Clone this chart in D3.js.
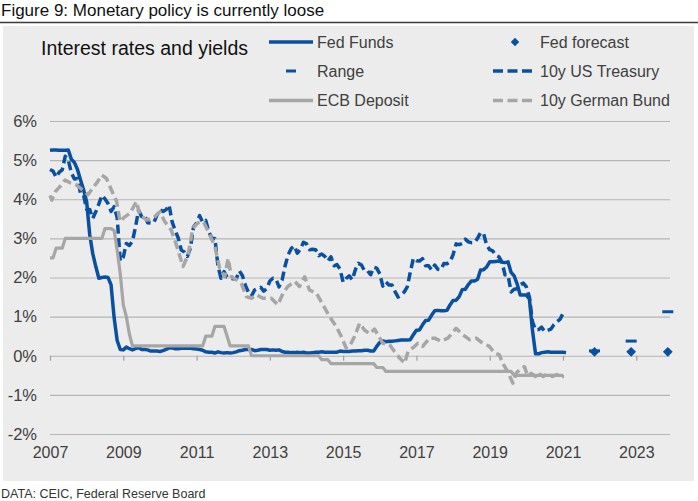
<!DOCTYPE html>
<html>
<head>
<meta charset="utf-8">
<script src="https://cdn.jsdelivr.net/npm/d3@7"></script>
<style>
  body { margin: 0; background: #fff; }
  text { font-family: "Liberation Sans", Arial, sans-serif; }
</style>
</head>
<body>
<script>
// monthly series start in January 2007
var startYear = 2007;

// effective Fed funds rate, monthly, Jan 2007 - Feb 2021
var fedFunds = [
  5.25,5.26,5.26,5.25,5.25,5.25,5.26,5.02,4.94,4.76,4.49,4.24,
  3.94,3.10,2.61,2.28,1.98,2.00,2.01,2.00,1.81,0.97,0.39,0.16,
  0.15,0.22,0.18,0.15,0.18,0.21,0.16,0.16,0.15,0.12,0.12,0.12,
  0.11,0.13,0.16,0.20,0.20,0.18,0.18,0.19,0.19,0.19,0.19,0.18,
  0.17,0.16,0.14,0.10,0.09,0.09,0.07,0.10,0.08,0.07,0.08,0.07,
  0.08,0.10,0.13,0.14,0.16,0.16,0.16,0.13,0.14,0.16,0.16,0.16,
  0.14,0.15,0.14,0.15,0.11,0.09,0.09,0.08,0.08,0.09,0.08,0.09,
  0.07,0.07,0.08,0.09,0.09,0.10,0.09,0.09,0.09,0.09,0.09,0.12,
  0.11,0.11,0.11,0.12,0.12,0.13,0.13,0.14,0.14,0.12,0.12,0.24,
  0.34,0.38,0.36,0.37,0.37,0.38,0.39,0.40,0.40,0.40,0.41,0.54,
  0.65,0.66,0.79,0.90,0.91,1.04,1.15,1.16,1.15,1.15,1.16,1.30,
  1.41,1.42,1.51,1.69,1.70,1.82,1.91,1.91,1.95,2.19,2.20,2.27,
  2.40,2.40,2.41,2.42,2.39,2.38,2.40,2.13,2.04,1.83,1.55,1.55,
  1.55,1.45,0.65,0.05,0.05,0.08,0.09,0.10,0.09,0.09,0.09,0.09,
  0.09,0.08
];

// 10y US Treasury yield, monthly, Jan 2007 - Jan 2021
var ust10y = [
  4.76,4.72,4.56,4.69,4.75,5.10,5.00,4.67,4.52,4.53,4.15,4.10,
  3.74,3.74,3.51,3.68,3.88,4.10,4.01,3.89,3.69,3.81,3.53,2.42,
  2.52,2.87,2.82,2.93,3.29,3.72,3.56,3.59,3.40,3.39,3.40,3.59,
  3.73,3.69,3.73,3.85,3.42,3.20,3.01,2.70,2.65,2.54,2.76,3.29,
  3.39,3.58,3.41,3.46,3.17,3.00,3.00,2.30,1.98,2.15,2.01,1.98,
  1.97,1.97,2.17,2.05,1.80,1.62,1.53,1.68,1.72,1.75,1.65,1.72,
  1.91,1.98,1.96,1.76,1.93,2.30,2.58,2.74,2.81,2.62,2.72,2.90,
  2.86,2.71,2.72,2.71,2.56,2.60,2.54,2.42,2.53,2.30,2.33,2.21,
  1.88,1.98,2.04,1.94,2.20,2.36,2.32,2.17,2.17,2.07,2.26,2.24,
  2.09,1.78,1.89,1.81,1.81,1.64,1.50,1.56,1.63,1.76,2.14,2.49,
  2.43,2.42,2.48,2.30,2.30,2.19,2.32,2.21,2.20,2.36,2.35,2.40,
  2.58,2.86,2.84,2.87,2.98,2.91,2.89,2.89,3.00,3.15,3.12,2.83,
  2.71,2.68,2.57,2.53,2.40,2.07,2.06,1.63,1.70,1.71,1.81,1.86,
  1.76,1.50,0.87,0.66,0.67,0.73,0.62,0.65,0.68,0.79,0.87,0.93,
  1.08
];

// ECB deposit rate, monthly, Jan 2007 - Jan 2021
var ecbDeposit = [
  2.50,2.50,2.75,2.75,2.75,3.00,3.00,3.00,3.00,3.00,3.00,3.00,
  3.00,3.00,3.00,3.00,3.00,3.00,3.25,3.25,3.25,3.20,2.70,2.10,
  1.30,1.00,0.55,0.25,0.25,0.25,0.25,0.25,0.25,0.25,0.25,0.25,
  0.25,0.25,0.25,0.25,0.25,0.25,0.25,0.25,0.25,0.25,0.25,0.25,
  0.25,0.25,0.25,0.50,0.50,0.50,0.75,0.75,0.75,0.75,0.50,0.25,
  0.25,0.25,0.25,0.25,0.25,0.25,0.00,0.00,0.00,0.00,0.00,0.00,
  0.00,0.00,0.00,0.00,0.00,0.00,0.00,0.00,0.00,0.00,0.00,0.00,
  0.00,0.00,0.00,0.00,0.00,-0.10,-0.10,-0.10,-0.20,-0.20,-0.20,-0.20,
  -0.20,-0.20,-0.20,-0.20,-0.20,-0.20,-0.20,-0.20,-0.20,-0.20,-0.20,-0.30,
  -0.30,-0.30,-0.40,-0.40,-0.40,-0.40,-0.40,-0.40,-0.40,-0.40,-0.40,-0.40,
  -0.40,-0.40,-0.40,-0.40,-0.40,-0.40,-0.40,-0.40,-0.40,-0.40,-0.40,-0.40,
  -0.40,-0.40,-0.40,-0.40,-0.40,-0.40,-0.40,-0.40,-0.40,-0.40,-0.40,-0.40,
  -0.40,-0.40,-0.40,-0.40,-0.40,-0.40,-0.40,-0.40,-0.50,-0.50,-0.50,-0.50,
  -0.50,-0.50,-0.50,-0.50,-0.50,-0.50,-0.50,-0.50,-0.50,-0.50,-0.50,-0.50,
  -0.50
];

// 10y German Bund yield, [year, value]
var bund10y = [
  [2007.00,4.10],[2007.05,3.98],[2007.15,4.20],[2007.30,4.35],[2007.41,4.49],[2007.55,4.42],
  [2007.70,4.38],[2007.90,4.23],[2008.04,4.12],[2008.18,4.30],[2008.30,4.45],[2008.41,4.62],
  [2008.54,4.53],[2008.68,4.23],[2008.82,3.94],[2008.91,3.43],[2009.04,3.55],[2009.18,3.64],
  [2009.36,3.94],[2009.45,3.60],[2009.63,3.47],[2009.80,3.50],[2010.00,3.68],[2010.13,3.43],
  [2010.31,3.21],[2010.45,2.83],[2010.63,2.28],[2010.77,2.58],[2010.90,3.26],[2011.04,3.40],
  [2011.18,3.43],[2011.31,3.20],[2011.50,2.79],[2011.63,2.24],[2011.77,2.02],[2011.86,2.49],
  [2011.95,2.02],[2012.09,1.94],[2012.22,1.85],[2012.36,1.51],[2012.50,1.47],[2012.63,1.56],
  [2012.81,1.47],[2013.04,1.47],[2013.22,1.30],[2013.36,1.60],[2013.49,1.77],[2013.68,1.90],
  [2013.81,1.77],[2013.95,2.02],[2014.08,1.68],[2014.27,1.60],[2014.45,1.30],[2014.63,1.00],
  [2014.81,0.75],[2014.95,0.49],[2015.08,0.20],[2015.17,0.23],[2015.31,0.49],[2015.45,0.83],
  [2015.58,0.66],[2015.72,0.56],[2015.86,0.68],[2016.08,0.32],[2016.27,0.28],[2016.40,0.11],
  [2016.54,-0.06],[2016.68,-0.19],[2016.77,0.11],[2016.90,0.20],[2017.04,0.32],[2017.17,0.24],
  [2017.36,0.45],[2017.50,0.45],[2017.67,0.37],[2017.86,0.45],[2018.08,0.70],[2018.26,0.54],
  [2018.45,0.41],[2018.63,0.45],[2018.81,0.32],[2018.99,0.24],[2019.13,0.07],[2019.26,0.03],
  [2019.35,-0.19],[2019.49,-0.40],[2019.63,-0.70],[2019.72,-0.45],[2019.86,-0.32],[2019.95,-0.28],
  [2020.04,-0.53],[2020.13,-0.45],[2020.25,-0.53],[2020.33,-0.45],[2020.46,-0.53],[2020.58,-0.45],
  [2020.71,-0.53],[2020.83,-0.48],[2020.96,-0.53],[2021.03,-0.53]
];

// Fed dot plot: median forecast and upper range, end of year
var forecastYears = [2021.86, 2022.86, 2023.86];
var fedForecast = [0.1, 0.1, 0.1];
var forecastRange = [0.125, 0.375, 1.125];

var yTicks = [-2, -1, 0, 1, 2, 3, 4, 5, 6];
var xTicks = [2007, 2009, 2011, 2013, 2015, 2017, 2019, 2021, 2023];

var blue = "#0a50a0";
var grey = "#a6a6a6";

var svg = d3.select("body").append("svg")
            .attr("width", 698)
            .attr("height", 501);

// heading and rule
svg.append("text")
   .attr("x", 1).attr("y", 16)
   .attr("font-size", 17)
   .attr("fill", "#111")
   .text("Figure 9: Monetary policy is currently loose");

svg.append("line")
   .attr("x1", 0).attr("x2", 698)
   .attr("y1", 22.5).attr("y2", 22.5)
   .attr("stroke", "#3a3a3a")
   .attr("stroke-width", 1.5);

// grey panel
svg.append("rect")
   .attr("x", 3).attr("y", 26)
   .attr("width", 691).attr("height", 455)
   .attr("fill", "#ececec");

svg.append("text")
   .attr("x", 1).attr("y", 498)
   .attr("font-size", 12.5)
   .attr("fill", "#333")
   .text("DATA: CEIC, Federal Reserve Board");

var x = d3.scaleLinear().domain([2007, 2023.92]).range([50, 670]);
var y = d3.scaleLinear().domain([-2, 6]).range([434, 121]);

// gridlines + y labels
var yAxis = svg.append("g")
               .attr("transform", "translate(50,0)")
               .call(d3.axisLeft(y)
                       .tickValues(yTicks)
                       .tickSize(-620)
                       .tickPadding(13)
                       .tickFormat(function (d) { return d + "%"; }));
yAxis.select(".domain").remove();
yAxis.selectAll("line").attr("stroke", "#b5b5b5").attr("stroke-width", 1.2);
yAxis.selectAll("text").attr("font-size", 16.5).attr("fill", "#404040")
     .attr("font-family", "Liberation Sans, Arial, sans-serif");

// zero line tick marks
var zeroAxis = svg.append("g")
                  .attr("transform", "translate(0," + y(0) + ")")
                  .call(d3.axisBottom(x).tickValues(xTicks).tickSize(5).tickFormat(""));
zeroAxis.select(".domain").remove();
zeroAxis.selectAll("line").attr("stroke", "#a0a0a0").attr("stroke-width", 1.2);

// year labels at the bottom
var xAxis = svg.append("g")
               .attr("transform", "translate(0," + y(-2) + ")")
               .call(d3.axisBottom(x).tickValues(xTicks).tickSize(0).tickPadding(13)
                       .tickFormat(d3.format("d")));
xAxis.select(".domain").remove();
xAxis.selectAll("text").attr("font-size", 16).attr("fill", "#404040")
     .attr("font-family", "Liberation Sans, Arial, sans-serif");

var monthly = d3.line()
                .x(function (d, i) { return x(startYear + i / 12); })
                .y(function (d) { return y(d); });
var pairs = d3.line()
              .x(function (d) { return x(d[0]); })
              .y(function (d) { return y(d[1]); });

var plot = svg.append("g").attr("fill", "none")
              .attr("stroke-linejoin", "round");

plot.append("path").datum(fedFunds)
    .attr("d", monthly)
    .attr("stroke", blue).attr("stroke-width", 3.5);

// range dashes
plot.selectAll(".range").data(forecastRange).enter()
    .append("line").attr("class", "range")
    .attr("x1", function (d, i) { return x(forecastYears[i]) - 5.5; })
    .attr("x2", function (d, i) { return x(forecastYears[i]) + 5.5; })
    .attr("y1", function (d) { return y(d); })
    .attr("y2", function (d) { return y(d); })
    .attr("stroke", blue).attr("stroke-width", 3);

// forecast diamonds
var diamond = d3.symbol().type(d3.symbolSquare).size(48);
svg.selectAll(".fc").data(fedForecast).enter()
   .append("path").attr("class", "fc")
   .attr("d", diamond)
   .attr("transform", function (d, i) {
     return "translate(" + x(forecastYears[i]) + "," + y(d) + ") rotate(45)";
   })
   .attr("fill", blue);

plot.append("path").datum(ust10y)
    .attr("d", monthly)
    .attr("stroke", blue).attr("stroke-width", 3.5)
    .attr("stroke-dasharray", "9,4.5");

plot.append("path").datum(ecbDeposit)
    .attr("d", monthly)
    .attr("stroke", grey).attr("stroke-width", 3.2);

plot.append("path").datum(bund10y)
    .attr("d", pairs)
    .attr("stroke", grey).attr("stroke-width", 3.5)
    .attr("stroke-dasharray", "9,4.5");

// title inside the panel
svg.append("text")
   .attr("x", 41).attr("y", 55)
   .attr("font-size", 19.5)
   .attr("fill", "#111")
   .text("Interest rates and yields");

// legend
var legend = svg.append("g").attr("font-size", 16).attr("fill", "#404040");
var rowY = [42, 71, 100.5];

function legendText(tx, ty, label) {
  legend.append("text").attr("x", tx).attr("y", ty + 5.8).text(label);
}

legend.append("line").attr("x1", 269).attr("x2", 313).attr("y1", rowY[0]).attr("y2", rowY[0])
      .attr("stroke", blue).attr("stroke-width", 3.5);
legendText(317, rowY[0], "Fed Funds");

legend.append("line").attr("x1", 286).attr("x2", 296).attr("y1", rowY[1]).attr("y2", rowY[1])
      .attr("stroke", blue).attr("stroke-width", 3);
legendText(317, rowY[1], "Range");

legend.append("line").attr("x1", 269).attr("x2", 313).attr("y1", rowY[2]).attr("y2", rowY[2])
      .attr("stroke", grey).attr("stroke-width", 3.5);
legendText(317, rowY[2], "ECB Deposit");

legend.append("path").attr("d", d3.symbol().type(d3.symbolSquare).size(36))
      .attr("transform", "translate(515," + rowY[0] + ") rotate(45)")
      .attr("fill", blue);
legendText(540, rowY[0], "Fed forecast");

legend.append("line").attr("x1", 493).attr("x2", 532).attr("y1", rowY[1]).attr("y2", rowY[1])
      .attr("stroke", blue).attr("stroke-width", 3.5).attr("stroke-dasharray", "10,4.5");
legendText(540, rowY[1], "10y US Treasury");

legend.append("line").attr("x1", 493).attr("x2", 532).attr("y1", rowY[2]).attr("y2", rowY[2])
      .attr("stroke", grey).attr("stroke-width", 3.5).attr("stroke-dasharray", "10,4.5");
legendText(540, rowY[2], "10y German Bund");
</script>
</body>
</html>
